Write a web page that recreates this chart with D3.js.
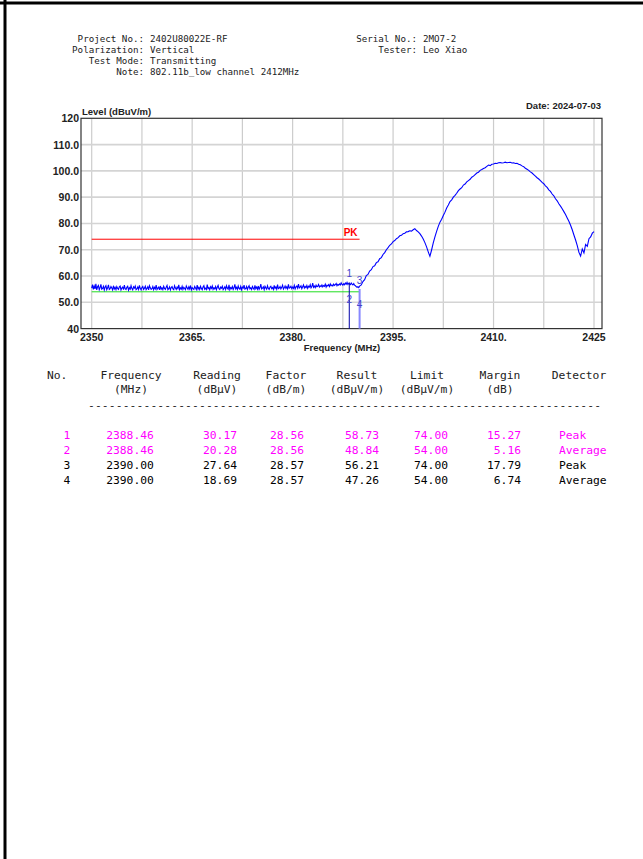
<!DOCTYPE html>
<html><head><meta charset="utf-8">
<script src="https://cdn.jsdelivr.net/npm/d3@7"></script>
<style>html,body{margin:0;padding:0;background:#fff;}svg{display:block;}</style>
</head><body>
<script>
// ---------- data ----------
const headerLeftLabels = ["Project No.:", "Polarization:", "Test Mode:", "Note:"];
const headerLeftValues = ["2402U80022E-RF", "Vertical", "Transmitting", "802.11b_low channel 2412MHz"];
const headerRightLabels = ["Serial No.:", "Tester:"];
const headerRightValues = ["2MO7-2", "Leo Xiao"];
const dateText = "Date: 2024-07-03";
const yTitle = "Level (dBuV/m)";
const xTitle = "Frequency (MHz)";

const xTickValues = [2350, 2365, 2380, 2395, 2410, 2425];
const xTickLabels = ["2350", "2365.", "2380.", "2395.", "2410.", "2425"];
const xGridValues = [2350, 2357.5, 2365, 2372.5, 2380, 2387.5, 2395, 2402.5, 2410, 2417.5, 2425];
const yTickValues = [120, 110, 100, 90, 80, 70, 60, 50, 40];
const yTickLabels = ["120", "110.0", "100.0", "90.0", "80.0", "70.0", "60.0", "50.0", "40"];

// noise floor trace, 2350 .. 2390 MHz every 0.125 MHz (dBuV/m)
const noiseStart = 2350, noiseStep = 0.125;
const noiseLevels = [
55.4,56.7,54.9,56.2,55.1,57.0,54.7,55.9,56.4,54.8,55.6,56.8,55.0,55.3,56.1,54.7,
55.8,56.3,54.8,55.5,56.6,54.9,55.2,56.0,55.4,54.7,56.3,55.1,55.7,54.8,56.0,55.3,
54.9,55.9,56.2,54.7,55.4,55.8,54.8,56.5,55.2,54.9,55.7,56.1,54.6,55.5,55.0,56.3,
55.2,54.7,55.9,55.4,56.2,54.8,55.1,55.8,54.9,56.4,55.3,54.7,55.6,56.0,54.9,55.4,
56.1,54.8,55.3,55.9,54.7,56.3,55.5,54.9,55.2,56.0,54.8,55.7,55.1,56.5,54.9,55.4,
55.8,54.7,56.2,55.0,55.5,54.8,56.1,55.3,54.9,55.7,56.4,54.8,55.2,55.9,54.7,55.6,
56.0,55.1,54.8,56.3,55.4,54.9,55.8,55.2,56.6,54.8,55.5,55.0,56.1,54.9,55.7,55.3,
54.8,56.2,55.5,54.9,55.9,55.1,56.4,54.7,55.6,55.2,54.9,56.0,55.4,54.8,56.5,55.0,
55.7,54.9,56.1,55.3,54.8,55.8,56.3,55.0,55.4,54.9,56.7,55.2,55.6,54.8,55.9,55.3,
56.2,54.9,55.5,55.1,56.0,54.8,55.7,56.4,55.2,54.9,55.8,55.4,56.1,54.8,55.3,55.9,
54.9,56.3,55.4,55.0,56.6,54.8,55.6,55.2,56.0,54.9,55.5,56.8,55.1,55.7,54.9,56.2,
55.3,55.0,56.1,54.8,55.8,55.4,56.5,55.0,55.2,56.0,54.9,55.7,56.3,55.1,55.5,54.9,
56.0,55.4,54.9,56.4,55.2,55.8,55.0,56.2,54.9,55.6,56.9,55.1,55.4,55.9,54.8,56.1,
55.5,55.0,56.3,55.3,54.9,55.8,56.1,55.2,55.6,54.9,56.4,55.3,55.8,55.0,56.7,55.2,
55.4,56.0,55.1,55.7,56.5,55.0,55.5,56.2,55.3,55.9,55.1,56.8,55.4,55.6,56.1,55.2,
55.8,55.3,56.4,55.1,55.9,56.2,55.4,56.9,55.5,55.8,56.3,55.2,55.9,56.6,55.4,56.0,
55.6,56.4,55.3,56.1,55.8,56.7,55.5,56.0,57.3,55.7,56.2,55.6,56.5,55.9,56.1,56.8,
55.8,56.3,56.0,56.6,55.9,56.4,56.1,56.9,55.8,56.5,56.2,56.7,56.0,57.0,56.3,56.6,
56.2,56.9,56.4,56.7,57.2,56.3,56.8,56.5,57.0,56.6,57.4,56.8,56.5,57.1,56.7,57.3,
56.9,57.6,56.8,57.2,57.0,56.7,57.3,56.9,56.6,57.1,56.5,56.3,56.0,55.7,55.9,55.6,
56.2
];
// upper part of the trace, 2390.25 .. 2425 MHz every 0.25 MHz (dBuV/m)
const traceStart = 2390.25, traceStep = 0.25;
const traceLevels = [
56.6,57.9,58.6,60.2,60.6,61.9,62.4,63.6,63.9,65.1,
65.4,66.6,67.0,68.2,68.9,70.0,70.8,71.7,72.2,73.1,
73.5,74.2,74.6,75.3,75.5,76.1,76.3,76.8,76.9,77.2,
77.1,77.6,78.0,77.3,76.8,76.1,75.2,74.1,72.7,71.1,
69.2,67.5,69.9,72.6,74.9,77.0,78.9,80.5,81.6,83.0,
84.3,85.9,87.0,88.3,89.0,90.0,90.7,91.5,92.5,93.1,
93.6,94.6,95.0,95.8,96.3,96.8,97.6,98.0,98.6,99.2,
99.5,100.2,100.5,100.9,101.2,101.7,102.2,102.0,102.5,102.6,
102.9,102.8,103.1,103.2,103.0,103.1,103.3,103.1,103.2,103.3,
103.0,103.1,102.8,102.9,102.5,102.3,101.9,101.6,101.0,100.6,
100.2,99.6,99.2,98.6,98.0,97.4,96.9,96.3,95.6,95.1,
94.3,93.7,92.8,92.2,91.2,90.5,89.4,88.6,87.5,86.6,
85.6,84.5,83.4,82.1,80.8,79.3,77.6,75.6,73.7,71.6,
69.0,67.6,70.3,68.8,72.0,71.3,74.2,74.9,76.3,76.9
];

const limitLines = [
  {name: "PK", level: 74, from: 2350, to: 2390, color: "#ff0000"},
  {name: "AV", level: 54, from: 2350, to: 2390, color: "#22dd22"}
];

// markers: no, frequency, reading, factor, result, limit, margin, detector
const markNo = [1, 2, 3, 4];
const markFreq = [2388.46, 2388.46, 2390.00, 2390.00];
const markReading = [30.17, 20.28, 27.64, 18.69];
const markFactor = [28.56, 28.56, 28.57, 28.57];
const markResult = [58.73, 48.84, 56.21, 47.26];
const markLimit = [74.00, 54.00, 74.00, 54.00];
const markMargin = [15.27, 5.16, 17.79, 6.74];
const markDetector = ["Peak", "Average", "Peak", "Average"];
const markRowColor = ["#ff00ff", "#ff00ff", "#000000", "#000000"];

const tableHead1 = ["No.", "Frequency", "Reading", "Factor", "Result", "Limit", "Margin", "Detector"];
const tableHead2 = ["", "(MHz)", "(dBμV)", "(dB/m)", "(dBμV/m)", "(dBμV/m)", "(dB)", ""];

// ---------- drawing ----------
const W = 643, H = 859;
const svg = d3.select("body").append("svg").attr("width", W).attr("height", H);

// page border
svg.append("line").attr("x1", 0).attr("x2", W).attr("y1", 3).attr("y2", 3).attr("stroke", "#000").attr("stroke-width", 3);
svg.append("line").attr("x1", 5).attr("x2", 5).attr("y1", 0).attr("y2", H).attr("stroke", "#000").attr("stroke-width", 3);

const mono = "'DejaVu Sans Mono', 'Liberation Mono', monospace";
const sans = "'Liberation Sans', Arial, sans-serif";

// header
const hdr = svg.append("g").attr("font-family", mono).attr("font-size", 9.2).attr("fill", "#222");
headerLeftLabels.forEach((t, i) => {
  hdr.append("text").attr("x", 144).attr("y", 42 + i * 11).attr("text-anchor", "end").text(t);
  hdr.append("text").attr("x", 150).attr("y", 42 + i * 11).text(headerLeftValues[i]);
});
headerRightLabels.forEach((t, i) => {
  hdr.append("text").attr("x", 417).attr("y", 42 + i * 11).attr("text-anchor", "end").text(t);
  hdr.append("text").attr("x", 423).attr("y", 42 + i * 11).text(headerRightValues[i]);
});

// chart
const x = d3.scaleLinear().domain([2350, 2425]).range([91.7, 594]);
const y = d3.scaleLinear().domain([40, 120]).range([328.6, 118.3]);
const frame = {x0: 81, x1: 602, y0: 118.3, y1: 328.6};

const g = svg.append("g");
// grid
g.selectAll(".vg").data(xGridValues).enter().append("line")
  .attr("x1", d => x(d)).attr("x2", d => x(d)).attr("y1", frame.y0).attr("y2", frame.y1)
  .attr("stroke", "#cccccc").attr("stroke-width", 1.2);
g.selectAll(".hg").data(yTickValues.filter(v => v > 40 && v < 120)).enter().append("line")
  .attr("x1", frame.x0).attr("x2", frame.x1).attr("y1", d => y(d)).attr("y2", d => y(d))
  .attr("stroke", "#d4d4d4").attr("stroke-width", 1.6);

// frame
g.append("rect").attr("x", frame.x0).attr("y", frame.y0).attr("width", frame.x1 - frame.x0).attr("height", frame.y1 - frame.y0)
  .attr("fill", "none").attr("stroke", "#333").attr("stroke-width", 1.2);

// y labels
g.selectAll(".yl").data(yTickValues).enter().append("text")
  .attr("x", 79).attr("y", d => y(d) + 4).attr("text-anchor", "end")
  .attr("font-family", sans).attr("font-weight", "bold").attr("font-size", 10.5).attr("fill", "#222")
  .text((d, i) => yTickLabels[i]);
// x labels
g.selectAll(".xl").data(xTickValues).enter().append("text")
  .attr("x", d => x(d)).attr("y", 341).attr("text-anchor", "middle")
  .attr("font-family", sans).attr("font-weight", "bold").attr("font-size", 10.5).attr("fill", "#222")
  .text((d, i) => xTickLabels[i]);

g.append("text").attr("x", 82).attr("y", 115).attr("font-family", sans).attr("font-weight", "bold").attr("font-size", 9.5).attr("fill", "#222").text(yTitle);
g.append("text").attr("x", 601).attr("y", 109).attr("text-anchor", "end").attr("font-family", sans).attr("font-weight", "bold").attr("font-size", 9.5).attr("fill", "#222").text(dateText);
g.append("text").attr("x", 342).attr("y", 351).attr("text-anchor", "middle").attr("font-family", sans).attr("font-weight", "bold").attr("font-size", 9.5).attr("fill", "#222").text(xTitle);

// limit lines
limitLines.forEach(l => {
  g.append("line").attr("x1", x(l.from)).attr("x2", x(l.to)).attr("y1", y(l.level)).attr("y2", y(l.level))
    .attr("stroke", l.color).attr("stroke-width", 1);
});
g.append("text").attr("x", x(2390) - 2).attr("y", y(74) - 3).attr("text-anchor", "end")
  .attr("font-family", sans).attr("font-weight", "bold").attr("font-size", 10).attr("fill", "#ff0000").text(limitLines[0].name);

// trace
const pts = noiseLevels.map((v, i) => [noiseStart + i * noiseStep, v])
  .concat(traceLevels.map((v, i) => [traceStart + i * traceStep, v]));
const line = d3.line().x(d => x(d[0])).y(d => y(d[1]));
g.append("path").datum(pts).attr("d", line).attr("fill", "none").attr("stroke", "#0000ff").attr("stroke-width", 1.1);

// markers
const markLineColor = ["#0000aa", "#0000aa", "#8888ff", "#8888ff"];
[0, 2].forEach(i => {
  g.append("line").attr("x1", x(markFreq[i])).attr("x2", x(markFreq[i]))
    .attr("y1", y(markResult[i]) + 3).attr("y2", frame.y1)
    .attr("stroke", markLineColor[i]).attr("stroke-width", i === 0 ? 1 : 2);
});
markNo.forEach((n, i) => {
  g.append("text").attr("x", x(markFreq[i])).attr("y", y(markResult[i]) - 2).attr("text-anchor", "middle")
    .attr("font-family", sans).attr("font-size", 10).attr("fill", "#4444cc").text(n);
});

// table
const tbl = svg.append("g").attr("font-family", mono).attr("font-size", 11.3).attr("fill", "#222");
const headX = [47, 131, 217, 286, 357, 427, 500, 579];
const headAnchor = ["start", "middle", "middle", "middle", "middle", "middle", "middle", "middle"];
tableHead1.forEach((t, i) => tbl.append("text").attr("x", headX[i]).attr("y", 379).attr("text-anchor", headAnchor[i]).text(t));
tableHead2.forEach((t, i) => tbl.append("text").attr("x", headX[i]).attr("y", 393).attr("text-anchor", headAnchor[i]).text(t));
tbl.append("text").attr("x", 88).attr("y", 409).attr("textLength", 513).attr("lengthAdjust", "spacing").text("-".repeat(74));

const cols = [
  {vals: markNo.map(String), x: 67, anchor: "middle"},
  {vals: markFreq.map(v => v.toFixed(2)), x: 130, anchor: "middle"},
  {vals: markReading.map(v => v.toFixed(2)), x: 237, anchor: "end"},
  {vals: markFactor.map(v => v.toFixed(2)), x: 304, anchor: "end"},
  {vals: markResult.map(v => v.toFixed(2)), x: 379, anchor: "end"},
  {vals: markLimit.map(v => v.toFixed(2)), x: 448, anchor: "end"},
  {vals: markMargin.map(v => v.toFixed(2)), x: 521, anchor: "end"},
  {vals: markDetector, x: 559, anchor: "start"}
];
markNo.forEach((n, r) => {
  cols.forEach(c => {
    tbl.append("text").attr("x", c.x).attr("y", 439 + r * 15).attr("text-anchor", c.anchor)
      .attr("fill", markRowColor[r]).text(c.vals[r]);
  });
});
</script>
</body></html>
